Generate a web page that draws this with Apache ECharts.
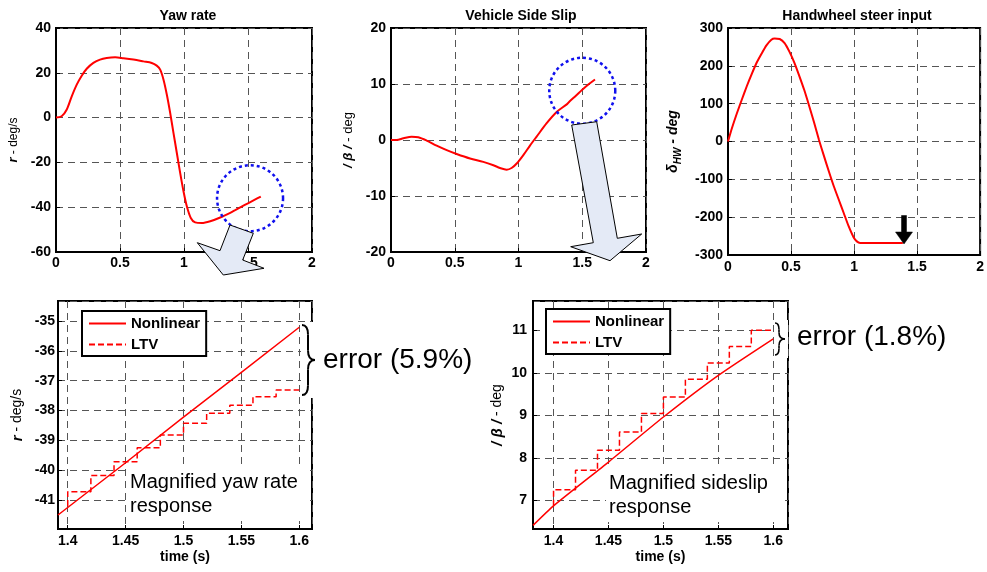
<!DOCTYPE html>
<html><head><meta charset="utf-8">
<script src="https://cdn.jsdelivr.net/npm/echarts@6/dist/echarts.min.js"></script>
<style>html,body{margin:0;padding:0;background:#fff}#c{width:987px;height:572px}</style>
</head><body><div id="c"></div>
<script>
// ---------- data ----------
const titles = ['Yaw rate', 'Vehicle Side Slip', 'Handwheel steer input'];

const yawT = [0, 0.044, 0.083, 0.123, 0.162, 0.201, 0.24, 0.292, 0.344, 0.396, 0.462, 0.527, 0.605, 0.683, 0.748, 0.787, 0.814, 0.84, 0.866, 0.892, 0.918, 0.944, 0.97, 0.996, 1.022, 1.053, 1.087, 1.139, 1.205, 1.283, 1.361, 1.4, 1.45, 1.5, 1.55, 1.6];
const yawR = [0, 0.6, 3.5, 9.5, 14.7, 18.7, 21.8, 24.4, 25.9, 26.6, 26.9, 26.5, 25.9, 25.1, 24.4, 23.2, 21.4, 16.9, 10.2, 2.1, -6.9, -15.8, -24.7, -32.9, -39.6, -44.8, -46.8, -47.1, -46.3, -44.6, -42.5, -41.3, -39.75, -38.25, -36.75, -35.25];

const slipT = [0, 0.044, 0.097, 0.162, 0.214, 0.28, 0.358, 0.437, 0.515, 0.62, 0.724, 0.803, 0.855, 0.907, 0.946, 0.986, 1.038, 1.09, 1.142, 1.221, 1.299, 1.381, 1.4, 1.45, 1.5, 1.55, 1.6];
const slipB = [0, 0, 0.3, 0.6, 0.5, -0.1, -1.0, -1.8, -2.5, -3.3, -3.9, -4.5, -5.0, -5.3, -5.0, -4.2, -2.7, -1.0, 0.6, 3.0, 5.0, 6.41, 6.87, 7.9, 8.96, 9.94, 10.8];

const steerT = [0, 0.031, 0.07, 0.11, 0.149, 0.188, 0.227, 0.266, 0.305, 0.344, 0.37, 0.41, 0.449, 0.488, 0.527, 0.566, 0.605, 0.644, 0.683, 0.722, 0.761, 0.801, 0.84, 0.879, 0.918, 0.957, 0.996, 1.022, 1.048, 1.387];
const steerD = [0, 35, 74, 111, 146, 178, 208, 232, 254, 269, 272, 271, 260, 237, 208, 173, 136, 94, 50, 4, -38, -80, -119, -154, -189, -224, -253, -264, -268, -268];

// magnified yaw rate
const magYawNlT = [1.3916, 1.45, 1.5, 1.55, 1.6];
const magYawNlR = [-41.5, -39.75, -38.22, -36.72, -35.21];
const magYawLtvT = [1.4, 1.4, 1.42, 1.44, 1.46, 1.48, 1.5, 1.52, 1.54, 1.56, 1.58, 1.6];
const magYawLtvR = [-41.2, -40.72, -40.18, -39.72, -39.25, -38.82, -38.43, -38.09, -37.82, -37.54, -37.31, -37.31];

// magnified sideslip
const magSlipNlT = [1.3813, 1.4, 1.45, 1.5, 1.55, 1.6];
const magSlipNlB = [6.41, 6.87, 7.9, 8.96, 9.94, 10.8];
const magSlipLtvT = [1.4, 1.4, 1.42, 1.44, 1.46, 1.48, 1.5, 1.52, 1.54, 1.56, 1.58, 1.6];
const magSlipLtvB = [6.87, 7.25, 7.71, 8.18, 8.61, 9.04, 9.43, 9.85, 10.23, 10.62, 11.0, 11.0];

const legendNames = ['Nonlinear', 'LTV'];
const errorTexts = ['error (5.9%)', 'error (1.8%)'];
const noteTexts = ['Magnified yaw rate\nresponse', 'Magnified sideslip\nresponse'];
// zoom circle centres (data coords)
const circleYaw = [1.516, -36.0];
const circleSlip = [1.5, 8.8];

// ---------- helpers ----------
const FONT = 'Liberation Sans, Arial, Helvetica, sans-serif';
const zip = (a, b) => a.map((v, i) => [v, b[i]]);
const RED = '#ff0000';

function xAx(gi, min, max, opts) {
  return Object.assign({
    type: 'value', gridIndex: gi, min: min, max: max,
    axisLine: {show: true, onZero: false, lineStyle: {color: '#000', width: 2}},
    axisTick: {show: true, inside: true, length: 4, lineStyle: {color: '#000'}},
    splitLine: {show: true, lineStyle: {color: '#555', type: [7, 5], width: 1}},
    axisLabel: {color: '#000', fontWeight: 'bold', fontSize: 14, margin: 4, fontFamily: FONT}
  }, opts || {});
}
function yAx(gi, min, max, opts) {
  return Object.assign({
    type: 'value', gridIndex: gi, min: min, max: max,
    axisLine: {show: true, onZero: false, lineStyle: {color: '#000', width: 2}},
    axisTick: {show: true, inside: true, length: 4, lineStyle: {color: '#000'}},
    splitLine: {show: true, lineStyle: {color: '#555', type: [7, 5], width: 1}},
    axisLabel: {color: '#000', fontWeight: 'bold', fontSize: 14, margin: 5, fontFamily: FONT},
    nameLocation: 'middle', nameRotate: 90
  }, opts || {});
}
const gridStyle = {show: true, borderColor: '#000', borderWidth: 2, backgroundColor: '#fff'};
const magLabel = {color: '#000', fontWeight: 'bold', fontSize: 14, fontFamily: FONT};
const titleStyle = {fontSize: 14, fontWeight: 'bold', color: '#000', fontFamily: FONT};
const ltvIcon = 'path://M0,0H6V2H0Z M9,0H15V2H9Z M18,0H24V2H18Z M27,0H33V2H27Z M36,0H37V2H36Z';
const nlIcon = 'path://M0,0H37V2H0Z';

const option = {
  backgroundColor: '#fff',
  animation: false,
  title: [
    {text: titles[0], left: 183, top: 4, textAlign: 'center', textStyle: titleStyle},
    {text: titles[1], left: 516, top: 4, textAlign: 'center', textStyle: titleStyle},
    {text: titles[2], left: 852, top: 4, textAlign: 'center', textStyle: titleStyle}
  ],
  grid: [
    Object.assign({left: 56, top: 28, width: 256, height: 224}, gridStyle),
    Object.assign({left: 391, top: 28, width: 255, height: 224}, gridStyle),
    Object.assign({left: 728, top: 28, width: 255, height: 227}, gridStyle),
    Object.assign({left: 58, top: 301, width: 254, height: 228}, gridStyle),
    Object.assign({left: 533, top: 301, width: 255, height: 228}, gridStyle)
  ],
  xAxis: [
    xAx(0, 0, 2, {interval: 0.5}),
    xAx(1, 0, 2, {interval: 0.5}),
    xAx(2, 0, 2, {interval: 0.5, axisLabel: {color: '#000', fontWeight: 'bold', fontSize: 14, margin: 5, fontFamily: FONT}}),
    xAx(3, 1.3916, 1.611, {minInterval: 0.05, maxInterval: 0.05,
      axisLabel: Object.assign({margin: 5, showMinLabel: false, showMaxLabel: false}, magLabel),
      name: 'time (s)', nameLocation: 'middle', nameGap: 21, nameTextStyle: magLabel}),
    xAx(4, 1.3813, 1.6134, {minInterval: 0.05, maxInterval: 0.05,
      axisLabel: Object.assign({margin: 5, showMinLabel: false, showMaxLabel: false}, magLabel),
      name: 'time (s)', nameLocation: 'middle', nameGap: 21, nameTextStyle: magLabel})
  ],
  yAxis: [
    yAx(0, -60, 40, {interval: 20, name: '{i|r} - deg/s', nameGap: 36,
      nameTextStyle: {fontSize: 12, color: '#000', fontFamily: FONT, rich: {i: {fontSize: 13, fontStyle: 'italic', fontWeight: 'bold', color: '#000', fontFamily: FONT}}}}),
    yAx(1, -20, 20, {interval: 10, name: '{i|/ β /} - deg', nameGap: 36,
      nameTextStyle: {fontSize: 13, color: '#000', fontFamily: FONT, rich: {i: {fontSize: 13, fontStyle: 'italic', fontWeight: 'bold', color: '#000', fontFamily: FONT}}}}),
    yAx(2, -300, 300, {interval: 100, name: '{i|δ}{s|HW}{i| - deg}', nameGap: 48,
      nameTextStyle: {fontSize: 13, color: '#000', fontFamily: FONT, rich: {
        i: {fontSize: 14, fontStyle: 'italic', fontWeight: 'bold', color: '#000', fontFamily: FONT, verticalAlign: 'bottom', lineHeight: 18},
        s: {fontSize: 10, fontStyle: 'italic', fontWeight: 'bold', color: '#000', fontFamily: FONT, verticalAlign: 'bottom', lineHeight: 18, padding: [0, 0, -3, 0]}}}}),
    yAx(3, -41.97, -34.33, {minInterval: 1, maxInterval: 1,
      axisLabel: Object.assign({margin: 3, showMinLabel: false, showMaxLabel: false}, magLabel),
      name: '{i|r} - deg/s', nameGap: 33,
      nameTextStyle: {fontSize: 14, color: '#000', fontFamily: FONT, rich: {i: {fontSize: 15, fontStyle: 'italic', fontWeight: 'bold', color: '#000', fontFamily: FONT}}}}),
    yAx(4, 6.325, 11.69, {minInterval: 1, maxInterval: 1,
      axisLabel: Object.assign({margin: 6, showMinLabel: false, showMaxLabel: false}, magLabel),
      name: '{i|/ β /} - deg', nameGap: 28,
      nameTextStyle: {fontSize: 14, color: '#000', fontFamily: FONT, rich: {i: {fontSize: 15, fontStyle: 'italic', fontWeight: 'bold', color: '#000', fontFamily: FONT}}}})
  ],
  legend: [
    {left: 82, top: 311, orient: 'vertical', padding: [5, 6, 4, 7], itemGap: 6, itemWidth: 37, itemHeight: 2,
      borderColor: '#000', borderWidth: 2, backgroundColor: '#fff',
      textStyle: {fontSize: 15, fontWeight: 'bold', color: '#000', fontFamily: FONT},
      data: [{name: legendNames[0], icon: nlIcon}, {name: legendNames[1], icon: ltvIcon}]},
    {left: 546, top: 309, orient: 'vertical', padding: [5, 6, 4, 7], itemGap: 6, itemWidth: 37, itemHeight: 2,
      borderColor: '#000', borderWidth: 2, backgroundColor: '#fff',
      textStyle: {fontSize: 15, fontWeight: 'bold', color: '#000', fontFamily: FONT},
      data: [{name: legendNames[0], icon: nlIcon}, {name: legendNames[1], icon: ltvIcon}]}
  ],
  series: [
    {type: 'line', xAxisIndex: 0, yAxisIndex: 0, data: zip(yawT, yawR), showSymbol: false, symbol: 'none', smooth: 0.3, lineStyle: {color: RED, width: 2}, itemStyle: {color: RED}, z: 3},
    {type: 'line', xAxisIndex: 1, yAxisIndex: 1, data: zip(slipT, slipB), showSymbol: false, symbol: 'none', smooth: 0.3, lineStyle: {color: RED, width: 2}, itemStyle: {color: RED}, z: 3},
    {type: 'line', xAxisIndex: 2, yAxisIndex: 2, data: zip(steerT, steerD), showSymbol: false, symbol: 'none', smooth: 0.2, lineStyle: {color: RED, width: 2}, itemStyle: {color: RED}, z: 3},
    {name: legendNames[0], type: 'line', xAxisIndex: 3, yAxisIndex: 3, data: zip(magYawNlT, magYawNlR), showSymbol: false, symbol: 'none', lineStyle: {color: RED, width: 1.5}, itemStyle: {color: RED}, z: 3},
    {name: legendNames[1], type: 'line', xAxisIndex: 3, yAxisIndex: 3, data: zip(magYawLtvT, magYawLtvR), step: 'end', showSymbol: false, symbol: 'none', lineStyle: {color: RED, width: 1.5, type: [6, 3]}, itemStyle: {color: RED}, z: 3},
    {name: legendNames[0], type: 'line', xAxisIndex: 4, yAxisIndex: 4, data: zip(magSlipNlT, magSlipNlB), showSymbol: false, symbol: 'none', smooth: 0.2, lineStyle: {color: RED, width: 1.5}, itemStyle: {color: RED}, z: 3},
    {name: legendNames[1], type: 'line', xAxisIndex: 4, yAxisIndex: 4, data: zip(magSlipLtvT, magSlipLtvB), step: 'end', showSymbol: false, symbol: 'none', lineStyle: {color: RED, width: 1.5, type: [6, 3]}, itemStyle: {color: RED}, z: 3}
  ]
};

const chart = echarts.init(document.getElementById('c'), null, {renderer: 'canvas'});
chart.setOption(option);

// ---------- annotations ----------
function brace(x0, xs, xm, yTop, yMid, yBot, lw) {
  const st = {fill: 'none', stroke: '#000', lineWidth: lw};
  const r = (xs - x0) * 1.6;
  return [
    {type: 'rect', shape: {x: x0 - 1, y: yTop - 3, width: xm - x0 + 4, height: yBot - yTop + 6}, style: {fill: '#fff'}, z: 55},
    {type: 'bezierCurve', shape: {x1: x0, y1: yTop, cpx1: xs - 1, cpy1: yTop, cpx2: xs, cpy2: yTop + r * 0.4, x2: xs, y2: yTop + r}, style: st, z: 60},
    {type: 'line', shape: {x1: xs, y1: yTop + r, x2: xs, y2: yMid - r}, style: st, z: 60},
    {type: 'bezierCurve', shape: {x1: xs, y1: yMid - r, cpx1: xs, cpy1: yMid - r * 0.3, cpx2: xs + 2, cpy2: yMid, x2: xm, y2: yMid}, style: st, z: 60},
    {type: 'bezierCurve', shape: {x1: xm, y1: yMid, cpx1: xs + 2, cpy1: yMid, cpx2: xs, cpy2: yMid + r * 0.3, x2: xs, y2: yMid + r}, style: st, z: 60},
    {type: 'line', shape: {x1: xs, y1: yMid + r, x2: xs, y2: yBot - r}, style: st, z: 60},
    {type: 'bezierCurve', shape: {x1: xs, y1: yBot - r, cpx1: xs, cpy1: yBot - r * 0.4, cpx2: xs - 1, cpy2: yBot, x2: x0, y2: yBot}, style: st, z: 60}
  ];
}
const c1 = chart.convertToPixel({gridIndex: 0}, circleYaw);
const c2 = chart.convertToPixel({gridIndex: 1}, circleSlip);
const arrowFill = '#e4eaf6';
let graphics = [
  {type: 'circle', shape: {cx: c1[0], cy: c1[1], r: 33}, style: {fill: 'none', stroke: '#1010ee', lineWidth: 2.5, lineDash: [3, 3]}, z: 50},
  {type: 'circle', shape: {cx: c2[0], cy: c2[1], r: 33}, style: {fill: 'none', stroke: '#1010ee', lineWidth: 2.5, lineDash: [3, 3]}, z: 50},
  {type: 'polygon', shape: {points: [[230, 225], [253.3, 233.3], [242.7, 260], [264, 268.3], [223.3, 275], [197.3, 242.7], [220, 250.7]]},
    style: {fill: arrowFill, stroke: '#000', lineWidth: 1}, z: 60},
  {type: 'polygon', shape: {points: [[571.7, 125], [596.7, 121.7], [617.3, 238.3], [641.7, 234], [610, 260.7], [570.7, 246.7], [593.3, 242.7]]},
    style: {fill: arrowFill, stroke: '#000', lineWidth: 1}, z: 60},
  {type: 'polygon', shape: {points: [[901.5, 215.5], [906.5, 215.5], [906.5, 232], [912.5, 232], [904, 244], [895.5, 232], [901.5, 232]]},
    style: {fill: '#000', stroke: '#000', lineWidth: 0.5}, z: 60},
  {type: 'text', x: 323, y: 360, style: {text: errorTexts[0], fontSize: 28, fontFamily: FONT, fill: '#000', verticalAlign: 'middle', align: 'left'}, z: 60},
  {type: 'text', x: 797, y: 337, style: {text: errorTexts[1], fontSize: 28, fontFamily: FONT, fill: '#000', verticalAlign: 'middle', align: 'left'}, z: 60},
  {type: 'text', x: 128, y: 465, style: {text: noteTexts[0], fontSize: 20, lineHeight: 24, fontFamily: FONT, fill: '#000', verticalAlign: 'top', align: 'left',
    backgroundColor: '#fff', padding: [5, 7, 3, 2], width: 170}, z: 60},
  {type: 'text', x: 606, y: 466, style: {text: noteTexts[1], fontSize: 20, lineHeight: 24, fontFamily: FONT, fill: '#000', verticalAlign: 'top', align: 'left',
    backgroundColor: '#fff', padding: [5, 7, 3, 3], width: 166}, z: 60}
];
graphics = graphics.concat(brace(302, 308, 315, 325, 360, 395, 2), brace(775, 779, 785, 323, 339, 355, 1.6));
chart.setOption({graphic: graphics});
</script>
</body></html>
